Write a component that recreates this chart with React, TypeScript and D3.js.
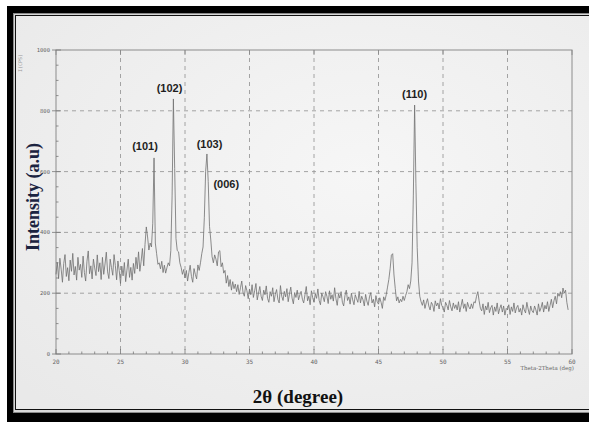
import React from 'react';
import * as d3 from 'd3';

// 2theta from 20.0 in steps of 0.1 deg
const startAngle = 20;
const stepAngle = 0.1;
const intensity = [
  262, 301, 248, 315, 279, 236, 298, 327, 255, 284,
  241, 309, 272, 331, 260, 288, 243, 318, 276, 295,
  252, 322, 268, 240, 305, 339, 264, 290, 247, 312,
  283, 258, 326, 271, 300, 245, 318, 262, 296, 335,
  270, 248, 312, 284, 259, 327, 291, 244, 306, 275,
  232, 289, 257, 301, 238, 276, 312, 252, 285, 243,
  298, 265, 318, 280, 336, 272, 305, 347, 290, 360,
  418, 385, 342, 365, 352, 430, 645, 365, 330, 295,
  300, 280, 305, 268, 292, 266, 284, 300, 290, 340,
  520, 839, 610, 380, 340, 336, 300, 285, 262, 278,
  250, 275, 240, 268, 292, 255, 236, 281, 262, 247,
  293, 275, 300, 330, 352, 450, 600, 658, 567, 420,
  375, 320, 300, 326, 312, 290, 336, 340, 287, 300,
  266, 275, 233, 258, 222, 245, 210, 238, 215, 230,
  205, 228, 196, 218, 240, 202, 190, 225, 208, 182,
  214, 195, 228, 186, 208, 232, 178, 200, 222, 190,
  176, 210, 195, 224, 183, 170, 205, 190, 218, 172,
  196, 212, 180, 168, 225, 190, 176, 206, 188, 215,
  172, 198, 220, 184, 165, 202, 186, 210, 178, 194,
  206, 180, 168, 195, 222, 175, 190, 162, 208, 185,
  170, 198, 183, 214, 176, 162, 200, 188, 172, 205,
  190, 166, 208, 180, 195, 174, 218, 182, 160, 198,
  184, 205, 170, 158, 192, 210, 176, 188, 164, 200,
  178, 162, 195, 182, 170, 206, 168, 190, 178, 158,
  196, 174, 160, 188, 202, 168, 180, 155, 192, 172,
  164, 185, 170, 150, 188, 176, 195, 220, 245, 280,
  325, 330, 260, 215, 175, 188, 168, 180, 172, 190,
  176, 192, 205, 228, 215, 240, 300, 520, 819, 560,
  350, 240, 190, 172, 160, 178, 150, 168, 182, 158,
  145, 170, 162, 140, 175, 158, 168, 148, 182, 160,
  152, 138, 170, 160, 145, 176, 155, 142, 168, 150,
  162, 145, 172, 138, 158, 180, 150, 165, 140, 170,
  155, 148, 165, 150, 172, 168, 190, 205, 175, 150,
  142, 165, 130, 158, 145, 170, 136, 152, 160, 128,
  155, 140, 168, 132, 150, 162, 138, 158, 128, 150,
  145, 162, 130, 155, 140, 168, 135, 152, 160, 138,
  150, 128, 162, 145, 135, 170, 148, 130, 158, 142,
  136, 158, 145, 128, 165, 140, 152, 170, 138, 160,
  148, 172, 140, 160, 180, 152, 175, 190, 165, 200,
  190, 205, 185, 217, 200, 210, 170, 145,
];

const xTicks = [20, 25, 30, 35, 40, 45, 50, 55, 60];
const yTicks = [0, 200, 400, 600, 800, 1000];

const peakLabels = ['(101)', '(102)', '(103)', '(006)', '(110)'];
const peakAngles = [26.9, 28.8, 31.9, 33.2, 47.8];
const peakLabelValues = [671, 862, 678, 546, 842];

const W = 589;
const H = 422;

export default function App() {
  const x = d3.scaleLinear().domain([20, 60]).range([56, 572]);
  const y = d3.scaleLinear().domain([0, 1000]).range([354, 50]);

  const points: [number, number][] = intensity.map((v, i) => [startAngle + i * stepAngle, v]);
  const line = d3.line<[number, number]>()
    .x(d => x(d[0]))
    .y(d => y(d[1]));

  const minorX = d3.range(20, 60.01, 1);
  const minorY = d3.range(0, 1000.01, 50);

  return (
    <svg width={W} height={H} style={{ position: 'absolute', left: 0, top: 0 }}>
      <defs>
        <radialGradient id="paper" cx="0.6" cy="0.4" r="0.8">
          <stop offset="0" stopColor="#f6f6f6" />
          <stop offset="1" stopColor="#e9e9e9" />
        </radialGradient>
      </defs>
      <rect x={0} y={0} width={W} height={H} fill="#ffffff" />
      {/* black frame */}
      <rect x={7} y={6} width={W - 7} height={H - 6} fill="#000" />
      <rect x={13} y={13} width={W - 13} height={H - 22} fill="#8a8a8a" />
      <rect x={14} y={14} width={W - 14} height={H - 24} fill="#d8d8d8" />
      <rect x={15} y={15} width={W - 15} height={H - 27} fill="#111" />
      <rect x={16} y={16} width={W - 16} height={H - 29} fill="url(#paper)" />

      {/* grid */}
      {xTicks.slice(1, -1).map(t => (
        <line key={'gx' + t} x1={x(t)} x2={x(t)} y1={y(1000)} y2={y(0)}
          stroke="#9a9a9a" strokeWidth={0.9} strokeDasharray="4,4" />
      ))}
      {yTicks.slice(1, -1).map(t => (
        <line key={'gy' + t} x1={x(20)} x2={x(60)} y1={y(t)} y2={y(t)}
          stroke="#9a9a9a" strokeWidth={0.9} strokeDasharray="4,4" />
      ))}

      {/* frame of plot */}
      <rect x={x(20)} y={y(1000)} width={x(60) - x(20)} height={y(0) - y(1000)}
        fill="none" stroke="#8c8c8c" strokeWidth={1} />
      {minorX.map(t => (
        <g key={'mx' + t}>
          <line x1={x(t)} x2={x(t)} y1={y(0)} y2={y(0) - (t % 5 === 0 ? 5 : 2.5)} stroke="#777" strokeWidth={0.8} />
          <line x1={x(t)} x2={x(t)} y1={y(1000)} y2={y(1000) + (t % 5 === 0 ? 5 : 0)} stroke="#888" strokeWidth={0.8} />
        </g>
      ))}
      {minorY.map(t => (
        <line key={'my' + t} x1={x(20)} x2={x(20) + (t % 200 === 0 ? 5 : 2.5)} y1={y(t)} y2={y(t)}
          stroke="#777" strokeWidth={0.8} />
      ))}
      {yTicks.map(t => (
        <line key={'yt' + t} x1={x(20) - 4} x2={x(20)} y1={y(t)} y2={y(t)} stroke="#777" strokeWidth={0.8} />
      ))}

      {/* tick labels */}
      {xTicks.map(t => (
        <text key={'xl' + t} x={x(t)} y={y(0) + 10} fontSize={6} fill="#666"
          textAnchor="middle" fontFamily="DejaVu Sans Mono">{t}</text>
      ))}
      {yTicks.map(t => (
        <text key={'yl' + t} x={x(20) - 6} y={y(t) + 2} fontSize={5.5} fill="#666"
          textAnchor="end" fontFamily="DejaVu Sans Mono">{t}</text>
      ))}
      <text x={x(60) + 2} y={y(0) + 16} fontSize={5.5} fill="#666" textAnchor="end"
        fontFamily="DejaVu Serif">Theta-2Theta (deg)</text>
      <text transform={`translate(22,${y(1000) + 4}) rotate(-90)`} fontSize={5} fill="#999"
        textAnchor="end" fontFamily="DejaVu Sans Mono">I(CPS)</text>

      {/* pattern */}
      <path d={line(points) || ''} fill="none" stroke="#707070" strokeWidth={0.8} />

      {/* peak labels */}
      {peakLabels.map((lab, i) => (
        <text key={lab} x={x(peakAngles[i])} y={y(peakLabelValues[i])} fontSize={11}
          fontWeight="bold" fill="#1e1e1e" textAnchor="middle" fontFamily="Liberation Sans">{lab}</text>
      ))}

      {/* axis titles */}
      <text transform={`translate(39,${197}) rotate(-90)`} textAnchor="middle" fontSize={18}
        fontWeight="bold" fill="#1b2340" fontFamily="Liberation Serif">Intensity (a.u)</text>
      <text x={298} y={403} textAnchor="middle" fontSize={19} fontWeight="bold" fill="#111"
        fontFamily="Liberation Serif">2θ (degree)</text>
    </svg>
  );
}
